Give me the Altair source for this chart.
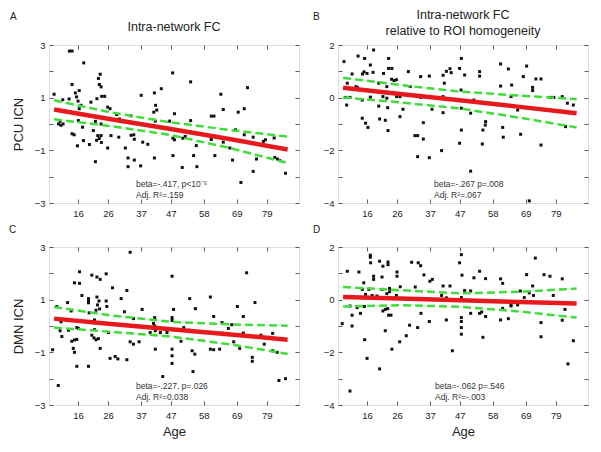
import altair as alt
import pandas as pd

FONT = "Liberation Sans"
X_DOMAIN = [6.3, 89.8]
X_TICKS = [16, 26, 37, 47, 58, 69, 79]
FIT_AGE = [8, 27, 47, 67, 86]

# ---------------- Panel A: PCU ICN, intra-network FC ----------------
A_age = [13.1, 14.0, 17.9, 23.4, 22.8, 47.6, 14.0, 23.1, 23.7, 8.0, 15.1, 16.4, 15.5, 10.9, 13.0,
         16.0, 20.3, 22.3, 23.9, 24.9, 37.1, 41.5, 43.8, 41.9, 42.3, 41.3, 17.0, 16.4, 25.9, 26.7,
         28.9, 10.0, 9.5, 11.0, 10.3, 16.1, 17.5, 21.8, 23.7, 21.1, 14.0, 14.7, 22.6, 23.7, 27.0,
         29.6, 34.6, 15.8, 17.8, 19.8, 22.2, 23.1, 23.8, 25.9, 31.8, 37.6, 21.8, 32.7, 34.8, 32.7,
         36.9, 41.5, 39.3, 41.8, 46.6, 29.8, 33.7, 33.7, 34.8,
         53.6, 63.7, 72.6, 64.5, 69.5, 71.5, 60.5, 61.4, 48.2, 53.6, 68.6, 71.5, 74.5, 77.9, 78.6,
         81.5, 60.5, 51.0, 51.8, 47.7, 48.2, 64.5, 55.5, 66.7, 47.7, 54.6, 61.7, 67.6, 75.6, 81.7,
         82.6, 83.4, 50.8, 55.7, 74.5, 85.3, 70.4]
A_val = [2.77, 2.77, 2.32, 1.89, 1.73, 1.94, 1.50, 1.50, 1.41, 1.13, 1.18, 1.27, 1.03, 0.92, 0.95,
         0.87, 0.83, 0.96, 1.05, 1.05, 1.09, 1.18, 1.34, 0.71, 0.53, 0.45, 0.71, 0.58, 0.64, 0.58,
         0.36, 0.10, 0.00, 0.00, -0.05, 0.13, -0.12, 0.10, 0.00, -0.25, -0.37, -0.41, -0.44, -0.44, -0.44,
         -0.50, -0.41, -0.83, -0.63, -0.78, -0.62, -0.55, -0.70, -0.91, -0.91, -0.69, -1.43, -1.29, -1.37, -1.62,
         -1.59, -1.29, -0.77, 0.11, 0.11, 0.19, 0.31, -0.43, -0.58,
         1.60, 1.13, 1.38, 0.55, 0.45, 0.58, 0.30, 0.30, 0.39, 0.13, -0.22, -0.41, -0.50, -0.66, -0.60,
         -0.53, -0.59, -0.54, -0.47, -0.54, -0.60, -0.69, -0.82, -0.91, -1.20, -1.20, -1.20, -1.37, -1.33, -1.27,
         -1.33, -1.39, -1.65, -1.62, -1.80, -1.87, -2.22]
A_fit = [0.55, 0.18, -0.19, -0.58, -0.97]
A_up = [0.90, 0.44, 0.06, -0.23, -0.48]
A_lo = [0.18, -0.08, -0.42, -0.92, -1.48]

# ---------------- Panel B: PCU ICN, relative to ROI homogeneity ----------------
B_age = [18.2, 13.0, 15.2, 8.3, 17.1, 23.2, 23.2, 24.3, 29.8, 11.0, 15.0, 16.0, 14.5, 18.0, 21.5,
         24.2, 25.0, 25.8, 33.9, 36.8, 41.4, 42.5, 43.7, 44.1, 9.4, 12.3, 12.8, 19.9, 22.6, 30.4,
         41.8, 8.8, 10.3, 14.4, 17.1, 21.3, 22.6, 25.9, 27.0, 33.9, 41.4, 9.2, 19.9, 22.9, 28.0,
         37.7, 41.4, 14.4, 15.5, 16.3, 20.2, 22.1, 27.0, 23.0, 34.8, 32.0, 32.9, 34.8, 40.9, 32.9, 36.8,
         47.5, 46.9, 48.6, 53.6, 53.6, 60.6, 63.2, 69.3, 68.2, 72.4, 74.1, 60.6, 64.3, 71.3, 71.3,
         64.1, 77.3, 78.4, 81.2, 82.9, 84.9, 47.4, 51.7, 66.3, 75.4, 47.5, 50.6, 55.6, 55.5, 54.7,
         61.3, 61.5, 67.3, 47.5, 46.9, 54.5, 74.1, 82.3, 50.6, 70.2]
B_val = [1.81, 1.58, 1.49, 1.37, 1.24, 1.49, 1.11, 1.11, 0.99, 0.90, 0.98, 0.92, 0.90, 0.96, 0.92,
         0.70, 0.65, 0.68, 0.80, 0.82, 0.85, 1.00, 1.10, 0.95, 0.55, 0.42, 0.38, 0.55, 0.42, 0.42,
         0.55, 0.01, 0.01, -0.09, 0.02, 0.04, -0.02, 0.04, 0.04, 0.01, 0.04, -0.28, -0.32, -0.38, -0.44,
         -0.44, -0.57, -0.78, -0.97, -1.13, -0.81, -0.86, -0.72, -1.25, -0.95, -1.44, -1.44, -1.57, -2.01, -2.24, -2.28,
         1.49, 1.11, 0.86, 0.99, 0.82, 1.28, 1.09, 1.20, 0.80, 0.71, 0.71, 0.44, 0.48, 0.39, 0.27,
         0.04, 0.01, 0.01, 0.04, -0.21, -0.28, 0.29, -0.09, -0.47, -0.47, -0.40, -0.59, -0.91, -1.04, -1.23,
         -1.13, -1.50, -1.39, -1.23, -1.73, -1.76, -1.80, -1.10, -2.79, -3.92]
B_fit = [0.38, 0.14, -0.10, -0.35, -0.59]
B_up = [0.76, 0.48, 0.23, 0.08, -0.06]
B_lo = [0.01, -0.18, -0.41, -0.76, -1.13]

# ---------------- Panel C: DMN ICN, intra-network FC ----------------
C_age = [33.4, 16.5, 20.6, 22.3, 23.4, 25.4, 14.8, 16.5, 32.3, 27.5, 17.3, 19.5, 19.5, 19.5, 22.3,
         23.0, 22.5, 23.2, 22.0, 25.4, 25.6, 30.4, 12.5, 31.5, 37.4, 8.9, 13.7, 34.5, 41.6, 19.7,
         10.3, 21.5, 21.5, 41.2, 41.6, 10.0, 12.8, 15.6, 16.1, 21.5, 26.2, 40.1, 41.8, 43.5, 45.7,
         10.6, 13.9, 14.8, 15.6, 20.6, 21.3, 22.0, 22.8, 23.4, 14.4, 14.8, 7.5, 33.4, 34.5, 36.4,
         26.7, 28.4, 29.3, 32.3, 41.8, 47.4, 15.6, 19.5, 44.3, 9.4,
         72.3, 47.4, 60.2, 53.3, 75.1, 55.2, 69.2, 47.9, 61.3, 71.2, 64.1, 67.3, 47.4, 47.4, 51.3,
         53.0, 66.2, 64.1, 71.2, 77.1, 81.0, 50.4, 68.0, 78.2, 60.2, 61.3, 63.3, 54.1, 55.0, 70.0,
         74.2, 74.2, 81.0, 82.5, 47.4, 47.4, 54.4, 83.1, 85.3]
C_val = [2.80, 2.06, 1.93, 1.86, 1.77, 1.98, 1.64, 1.62, 1.35, 1.45, 1.16, 1.04, 0.95, 0.88, 1.10,
         0.95, 0.80, 0.65, 0.60, 0.95, 0.74, 1.04, 0.89, 0.54, 0.63, 0.74, 0.57, 0.28, 0.32, 0.50,
         0.16, 0.23, 0.13, 0.10, 0.00, -0.18, -0.16, -0.06, -0.09, -0.14, -0.25, -0.25, -0.18, -0.25, -0.25,
         -0.40, -0.58, -0.53, -0.51, -0.35, -0.45, -0.52, -0.48, -0.85, -0.85, -1.00, -0.90, -0.60, -0.69, -0.60,
         -1.23, -1.16, -1.25, -1.28, -0.88, -1.42, -1.53, -1.53, -1.92, -2.26,
         2.02, 1.89, 1.10, 1.04, 0.89, 0.66, 0.74, 0.63, 0.36, 0.36, 0.13, 0.05, 0.32, 0.21, -0.06,
         -0.16, -0.09, -0.27, -0.27, -0.35, -0.28, -0.58, -0.60, -0.69, -0.88, -0.90, -0.88, -0.94, -1.07, -0.85,
         -1.19, -1.34, -0.94, -1.00, -0.88, -1.13, -1.73, -2.07, -2.00]
C_fit = [0.28, 0.08, -0.12, -0.32, -0.52]
C_up = [0.72, 0.40, 0.16, 0.06, 0.01]
C_lo = [-0.06, -0.22, -0.40, -0.70, -1.06]

# ---------------- Panel D: DMN ICN, relative to ROI homogeneity ----------------
D_age = [17.1, 17.1, 20.2, 23.0, 23.0, 21.3, 9.4, 13.3, 17.2, 26.0, 26.0, 30.9, 33.1, 33.9, 35.0,
         18.2, 18.2, 21.0, 14.9, 32.1, 37.0, 37.8, 14.4, 16.6, 21.0, 23.5, 27.1, 41.4, 43.7, 15.5,
         17.7, 19.3, 22.6, 23.5, 25.8, 40.9, 42.5, 10.3, 12.7, 15.1, 21.3, 22.1, 22.9, 23.2, 24.0,
         11.0, 13.8, 7.7, 11.0, 30.2, 32.9, 34.0, 36.8, 42.5, 22.1, 15.2, 26.9, 29.1, 24.3, 44.5,
         16.0, 20.2, 10.3,
         47.5, 72.2, 46.9, 53.6, 47.7, 51.7, 55.6, 60.6, 61.3, 69.3, 75.1, 77.1, 81.2, 71.3, 48.6,
         50.6, 67.2, 70.2, 71.6, 78.2, 47.5, 68.5, 64.1, 64.1, 66.3, 82.1, 50.6, 53.6, 54.3, 55.6,
         61.3, 60.6, 63.2, 81.2, 74.1, 47.5, 47.5, 47.5, 47.5, 54.7, 74.1, 84.9, 83.1]
D_val = [1.69, 1.61, 1.46, 1.43, 1.33, 1.27, 1.08, 1.05, 1.40, 1.05, 0.89, 1.42, 1.40, 1.29, 0.94,
         0.89, 0.77, 0.86, 0.64, 0.48, 0.70, 0.77, 0.39, 0.39, 0.39, 0.43, 0.49, 0.52, 0.52, 0.20,
         0.16, 0.14, 0.23, 0.30, 0.16, 0.16, 0.07, -0.24, -0.30, -0.26, -0.43, -0.37, -0.34, -0.59, -0.59,
         -0.59, -0.52, -0.91, -1.00, -0.97, -1.06, -0.52, -0.83, -0.77, -1.18, -1.52, -1.60, -1.37, -1.88, -1.94,
         -2.23, -2.63, -3.47,
         1.71, 1.58, 1.40, 1.08, 0.93, 0.83, 0.80, 0.79, 0.62, 0.95, 0.95, 0.89, 0.79, 0.52, 0.35,
         0.33, 0.33, 0.26, 0.16, 0.16, 0.08, 0.08, -0.18, -0.24, -0.20, -0.37, -0.52, -0.52, -0.47, -0.64,
         -0.33, -0.77, -0.72, -0.78, -0.87, -0.68, -0.83, -1.06, -1.31, -1.43, -1.41, -1.56, -2.44]
D_fit = [0.10, 0.04, -0.02, -0.09, -0.15]
D_up = [0.48, 0.36, 0.24, 0.30, 0.42]
D_lo = [-0.26, -0.21, -0.27, -0.45, -0.68]

TITLE_A = ["Intra-network FC"]
TITLE_B = ["Intra-network FC", "relative to ROI homogeneity"]
NOTES = {
    "A": ["beta=-.417, p<10\u207b\u2075", "Adj. R\u00b2=.159"],
    "B": ["beta=-.267 p=.008", "Adj. R\u00b2=.067"],
    "C": ["beta=-.227, p=.026", "Adj. R\u00b2=0.038"],
    "D": ["beta=-.062 p=.546", "Adj. R\u00b2=-.003"],
}

W, H = 250, 158
INK = "#222222"
RED = "#e8191c"
GREEN = "#3fdc3a"


def text_layer(s, x, y, size, align="left", color=INK):
    return alt.Chart(pd.DataFrame({"t": [s]})).mark_text(
        align=align, baseline="alphabetic", font=FONT, fontSize=size, color=color
    ).encode(x=alt.value(x), y=alt.value(y), text="t:N")


def panel(letter, age, val, fit, up, lo, ydom, ylabels, yticks, ytitle, xtitle,
          title_lines, title_y, letter_x, letter_y, note_x):
    pts = pd.DataFrame({"age": age, "val": val})
    fitdf = pd.DataFrame({"age": FIT_AGE, "fit": fit, "up": up, "lo": lo})
    xs = alt.Scale(domain=X_DOMAIN, nice=False, zero=False)
    ys = alt.Scale(domain=ydom, nice=False, zero=False)

    x_lab = alt.Axis(orient="bottom", values=X_TICKS, ticks=False, labelPadding=5,
                     domain=False, grid=False, labelFont=FONT, labelFontSize=9.5,
                     labelColor=INK, titleFont=FONT, titleFontSize=13,
                     titleFontWeight="normal", titleColor=INK, titlePadding=6)
    y_lab = alt.Axis(orient="left", values=ylabels, ticks=False, labelPadding=4,
                     domain=False, grid=False, labelFont=FONT, labelFontSize=9.5,
                     labelColor=INK, titleFont=FONT, titleFontSize=13,
                     titleFontWeight="normal", titleColor=INK, titlePadding=9)
    tick_common = dict(tickSize=4, offset=-4, labels=False, domain=False, grid=False,
                       tickColor="#333333", tickWidth=0.8)
    x_bot = alt.Axis(orient="bottom", values=X_TICKS, **tick_common)
    x_top = alt.Axis(orient="top", values=X_TICKS, **tick_common)
    y_left = alt.Axis(orient="left", values=yticks, **tick_common)
    y_right = alt.Axis(orient="right", values=yticks, **tick_common)

    points = alt.Chart(pts).mark_square(size=9, color="#111111", opacity=1).encode(
        x=alt.X("age:Q", scale=xs, axis=x_lab, title=xtitle),
        y=alt.Y("val:Q", scale=ys, axis=y_lab, title=ytitle),
    )
    fitline = alt.Chart(fitdf).mark_line(color=RED, strokeWidth=4.5).encode(
        x=alt.X("age:Q", scale=xs, axis=x_bot, title=None),
        y=alt.Y("fit:Q", scale=ys, axis=y_left, title=None),
    )
    upper = alt.Chart(fitdf).mark_line(color=GREEN, strokeWidth=2.5, strokeDash=[8, 4]).encode(
        x=alt.X("age:Q", scale=xs, axis=x_top, title=None),
        y=alt.Y("up:Q", scale=ys, axis=y_right, title=None),
    )
    lower = alt.Chart(fitdf).mark_line(color=GREEN, strokeWidth=2.5, strokeDash=[8, 4]).encode(
        x=alt.X("age:Q", scale=xs, axis=None),
        y=alt.Y("lo:Q", scale=ys, axis=None),
    )
    layers = [points, fitline, upper, lower,
              text_layer(letter, letter_x, letter_y, 10),
              text_layer(NOTES[letter][0], note_x, 142, 8.5, color="#333333"),
              text_layer(NOTES[letter][1], note_x, 153, 8.5, color="#333333")]
    for i, line in enumerate(title_lines):
        layers.append(text_layer(line, W / 2, title_y + 16 * i, 12.5, align="center"))

    return alt.layer(*layers).resolve_axis(
        x="independent", y="independent").properties(width=W, height=H)


pA = panel("A", A_age, A_val, A_fit, A_up, A_lo, [-3, 3], [-3, -1, 1, 3],
           [-3, -2, -1, 0, 1, 2, 3], "PCU ICN", None, TITLE_A, -14, -39, -25, 87)
pB = panel("B", B_age, B_val, B_fit, B_up, B_lo, [-4, 2], [-4, -2, 0, 2],
           [-4, -3, -2, -1, 0, 1, 2], None, None, TITLE_B, -26, -25, -25, 96)
pC = panel("C", C_age, C_val, C_fit, C_up, C_lo, [-3, 3], [-3, -1, 1, 3],
           [-3, -2, -1, 0, 1, 2, 3], "DMN ICN", "Age", [], 0, -40, -14, 87)
pD = panel("D", D_age, D_val, D_fit, D_up, D_lo, [-4, 2], [-4, -2, 0, 2],
           [-4, -3, -2, -1, 0, 1, 2], None, "Age", [], 0, -25, -14, 97)

chart = alt.concat(pA, pB, pC, pD, columns=2, spacing={"row": 44, "column": 39},
                   bounds="flush").properties(
    padding={"left": 0, "top": 0, "right": 2, "bottom": 2}
).configure_view(stroke="#222222", strokeWidth=1).configure(background="white")

chart.save("out.html", embed_options={"renderer": "svg", "actions": False})
